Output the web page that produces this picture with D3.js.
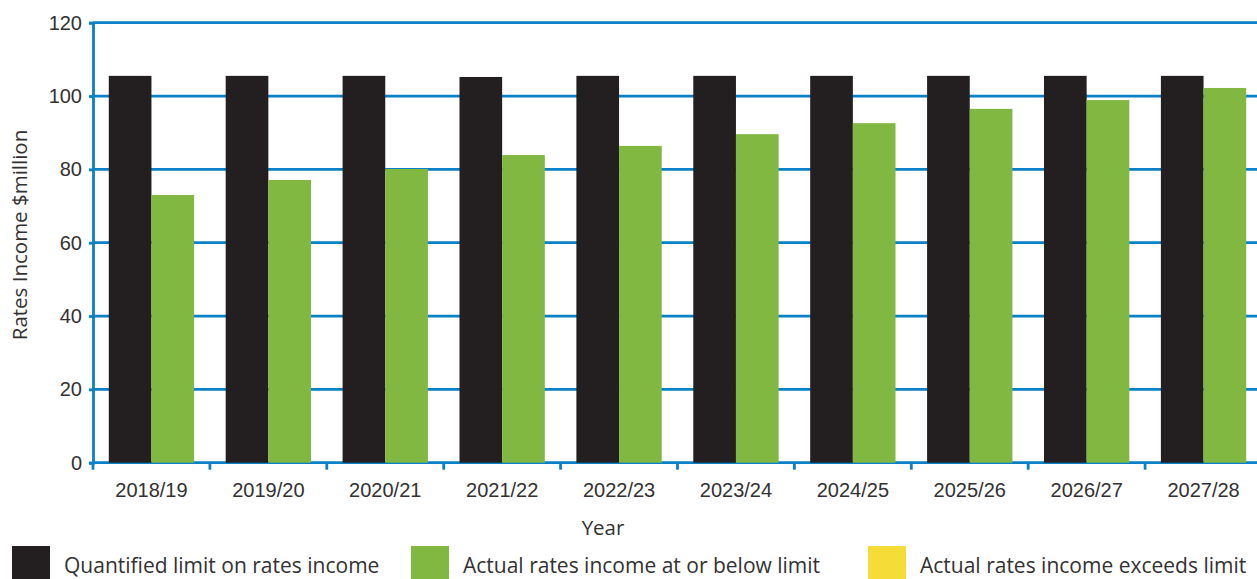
<!DOCTYPE html>
<html>
<head>
<meta charset="utf-8">
<script src="https://cdn.jsdelivr.net/npm/d3@7"></script>
<style>
  html, body { margin: 0; padding: 0; background: #fff; overflow: hidden; }
  svg { display: block; font-family: "Open Sans", "Noto Sans", sans-serif; }
</style>
</head>
<body>
<div id="viz"></div>
<script>
// Rates income by year, $million
const years = ["2018/19", "2019/20", "2020/21", "2021/22", "2022/23", "2023/24", "2024/25", "2025/26", "2026/27", "2027/28"]
const limitValues = [105.5, 105.5, 105.5, 105.2, 105.5, 105.5, 105.5, 105.5, 105.5, 105.5]
const actualValues = [73.0, 77.1, 80.1, 83.9, 86.4, 89.6, 92.6, 96.5, 98.9, 102.2]
const yTicks = [0, 20, 40, 60, 80, 100, 120]
const legendItems = [
  { label: "Quantified limit on rates income", color: "#231f20" },
  { label: "Actual rates income at or below limit", color: "#80b842" },
  { label: "Actual rates income exceeds limit", color: "#f6dc36" }
]

const width = 1257
const height = 579
const blue = "#0a81c6"
const textColor = "#333132"

const svg = d3.select("#viz").append("svg")
  .attr("width", width)
  .attr("height", height)

const x0 = d3.scaleBand()
  .domain(years)
  .range([93, 1262])

const x1 = d3.scaleBand()
  .domain(["limit", "actual"])
  .range([0, x0.bandwidth()])
  .paddingOuter(0.37)

const y = d3.scaleLinear()
  .domain([0, 120])
  .range([462.7, 22.7])

// horizontal gridlines
svg.append("g")
  .selectAll("line")
  .data(yTicks)
  .enter()
  .append("line")
    .attr("x1", 93)
    .attr("x2", width)
    .attr("y1", d => y(d))
    .attr("y2", d => y(d))
    .attr("stroke", blue)
    .attr("stroke-width", 2.8)

// y axis
const yAxis = svg.append("g")
  .attr("transform", "translate(93,0)")
  .call(d3.axisLeft(y).tickValues(yTicks).tickSize(4).tickPadding(7))
yAxis.select(".domain").attr("stroke", blue).attr("stroke-width", 2.8)
yAxis.selectAll(".tick line").attr("stroke", blue).attr("stroke-width", 2.8)
yAxis.selectAll("text")
  .attr("fill", textColor)
  .style("font-size", "20px")

// bars
const groups = svg.append("g")
  .selectAll("g")
  .data(years)
  .enter()
  .append("g")
    .attr("transform", d => `translate(${x0(d)},0)`)

groups.append("rect")
  .attr("x", x1("limit"))
  .attr("width", x1.bandwidth())
  .attr("y", (d, i) => y(limitValues[i]))
  .attr("height", (d, i) => y(0) - y(limitValues[i]))
  .attr("fill", legendItems[0].color)

groups.append("rect")
  .attr("x", x1("actual"))
  .attr("width", x1.bandwidth())
  .attr("y", (d, i) => y(actualValues[i]))
  .attr("height", (d, i) => y(0) - y(actualValues[i]))
  .attr("fill", legendItems[1].color)

// x axis
const xAxis = svg.append("g")
  .attr("transform", `translate(0,${y(0)})`)
  .call(d3.axisBottom(x0).tickSize(0))
xAxis.select(".domain").remove()
xAxis.selectAll("text")
  .attr("y", 34)
  .attr("dy", null)
  .attr("fill", textColor)
  .style("font-size", "20px")

// category separators below the baseline
svg.append("g")
  .selectAll("line")
  .data(years)
  .enter()
  .append("line")
    .attr("x1", d => x0(d))
    .attr("x2", d => x0(d))
    .attr("y1", y(0))
    .attr("y2", y(0) + 7)
    .attr("stroke", blue)
    .attr("stroke-width", 2.8)

// axis titles
svg.append("text")
  .attr("x", 603)
  .attr("y", 535)
  .attr("text-anchor", "middle")
  .attr("fill", textColor)
  .style("font-size", "20.5px")
  .text("Year")

svg.append("text")
  .attr("transform", "translate(27,235) rotate(-90)")
  .attr("text-anchor", "middle")
  .attr("fill", textColor)
  .style("font-size", "20.5px")
  .text("Rates Income $million")

// legend
const legendX = [12, 411, 868]
const legend = svg.append("g")
  .selectAll("g")
  .data(legendItems)
  .enter()
  .append("g")
    .attr("transform", (d, i) => `translate(${legendX[i]},546)`)

legend.append("rect")
  .attr("width", 38)
  .attr("height", 38)
  .attr("fill", d => d.color)

legend.append("text")
  .attr("x", 52)
  .attr("y", 27)
  .attr("fill", textColor)
  .style("font-size", "21px")
  .text(d => d.label)
</script>
</body>
</html>
